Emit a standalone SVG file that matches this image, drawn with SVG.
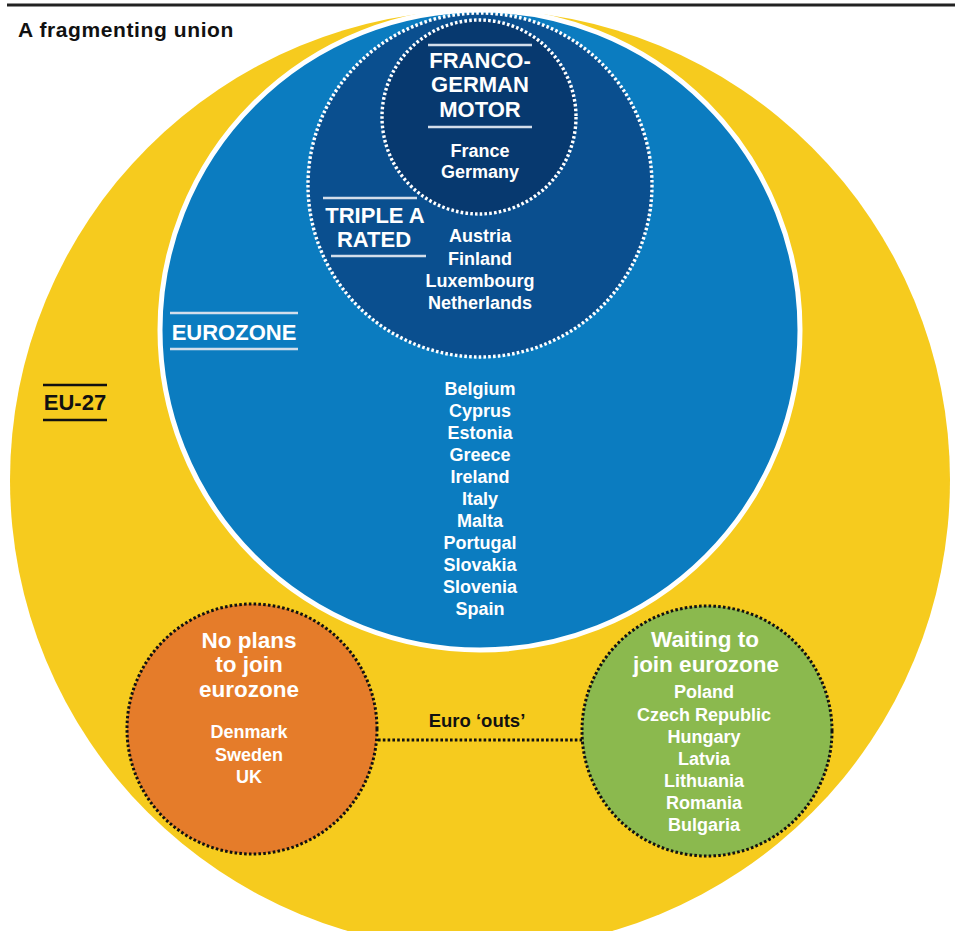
<svg xmlns="http://www.w3.org/2000/svg" width="960" height="931" viewBox="0 0 960 931">
<style>
text{font-family:"Liberation Sans",Arial,sans-serif;font-weight:bold;text-anchor:middle}
.w{fill:#ffffff}
.hd{font-size:22px}
.c{font-size:18px}
.rule{stroke:#d3deeb;stroke-width:2.5}
.wdot{fill:none;stroke:#ffffff;stroke-width:3.4;stroke-dasharray:2.6 2.2}
.kdot{stroke:#111111;stroke-width:3;stroke-dasharray:2.6 2.2;fill:none}
</style>
<rect x="0" y="0" width="960" height="931" fill="#ffffff"/>
<line x1="7" y1="5" x2="955" y2="5" stroke="#222222" stroke-width="3"/>
<text x="18" y="37" style="text-anchor:start;font-size:21px;letter-spacing:0.6px" fill="#111111">A fragmenting union</text>

<g id="eu27">
<circle cx="480" cy="480" r="470" fill="#f6cb1e"/>
<line x1="43" y1="385" x2="107" y2="385" stroke="#111111" stroke-width="2.5"/>
<text x="75" y="410" class="hd" fill="#111111">EU-27</text>
<line x1="43" y1="420" x2="107" y2="420" stroke="#111111" stroke-width="2.5"/>
</g>

<g id="eurozone">
<circle cx="480" cy="330" r="320" fill="#0b7cc0" stroke="#ffffff" stroke-width="5"/>
<line x1="170" y1="313" x2="298" y2="313" class="rule"/>
<text x="234" y="340" class="hd w">EUROZONE</text>
<line x1="170" y1="349" x2="298" y2="349" class="rule"/>
<text x="480" y="395" class="c w">Belgium</text>
<text x="480" y="417" class="c w">Cyprus</text>
<text x="480" y="439" class="c w">Estonia</text>
<text x="480" y="461" class="c w">Greece</text>
<text x="480" y="483" class="c w">Ireland</text>
<text x="480" y="505" class="c w">Italy</text>
<text x="480" y="527" class="c w">Malta</text>
<text x="480" y="549" class="c w">Portugal</text>
<text x="480" y="571" class="c w">Slovakia</text>
<text x="480" y="593" class="c w">Slovenia</text>
<text x="480" y="615" class="c w">Spain</text>
</g>

<g id="triple-a">
<circle cx="480" cy="185" r="172" fill="#0a4f8f"/>
<circle cx="480" cy="185" r="172" class="wdot"/>
<line x1="323" y1="198" x2="417" y2="198" class="rule"/>
<text x="375" y="223" class="hd w">TRIPLE A</text>
<text x="374" y="247" class="hd w">RATED</text>
<line x1="331" y1="256" x2="426" y2="256" class="rule"/>
<text x="480" y="242" class="c w">Austria</text>
<text x="480" y="264.5" class="c w">Finland</text>
<text x="480" y="287" class="c w">Luxembourg</text>
<text x="480" y="309" class="c w">Netherlands</text>
</g>

<g id="franco-german">
<circle cx="479" cy="117" r="97" fill="#07396f"/>
<circle cx="479" cy="117" r="97" class="wdot"/>
<line x1="428" y1="45" x2="532" y2="45" class="rule"/>
<text x="480" y="68" class="hd w">FRANCO-</text>
<text x="480" y="92" class="hd w">GERMAN</text>
<text x="480" y="117" class="hd w">MOTOR</text>
<line x1="428" y1="127" x2="532" y2="127" class="rule"/>
<text x="480" y="157" class="c w">France</text>
<text x="480" y="178" class="c w">Germany</text>
</g>

<g id="connectors">
<line x1="378" y1="740" x2="582" y2="740" class="kdot"/>
<text x="477" y="727" style="font-size:18.5px" fill="#111111">Euro ‘outs’</text>
</g>

<g id="no-plans">
<circle cx="252" cy="729" r="125" fill="#e57c2a"/>
<circle cx="252" cy="729" r="125" class="kdot"/>
<text x="249" y="648" class="w" style="font-size:22.5px">No plans</text>
<text x="249" y="672" class="w" style="font-size:22.5px">to join</text>
<text x="249" y="697" class="w" style="font-size:22.5px">eurozone</text>
<text x="249" y="738" class="c w">Denmark</text>
<text x="249" y="761" class="c w">Sweden</text>
<text x="249" y="783" class="c w">UK</text>
</g>

<g id="waiting">
<circle cx="707" cy="731" r="125" fill="#8bb94e"/>
<circle cx="707" cy="731" r="125" class="kdot"/>
<text x="705" y="647" class="w" style="font-size:22.5px">Waiting to</text>
<text x="706" y="672" class="w" style="font-size:22.5px">join eurozone</text>
<text x="704" y="698" class="c w">Poland</text>
<text x="704" y="721" class="c w">Czech Republic</text>
<text x="704" y="743" class="c w">Hungary</text>
<text x="704" y="765" class="c w">Latvia</text>
<text x="704" y="787" class="c w">Lithuania</text>
<text x="704" y="809" class="c w">Romania</text>
<text x="704" y="831" class="c w">Bulgaria</text>
</g>
</svg>
